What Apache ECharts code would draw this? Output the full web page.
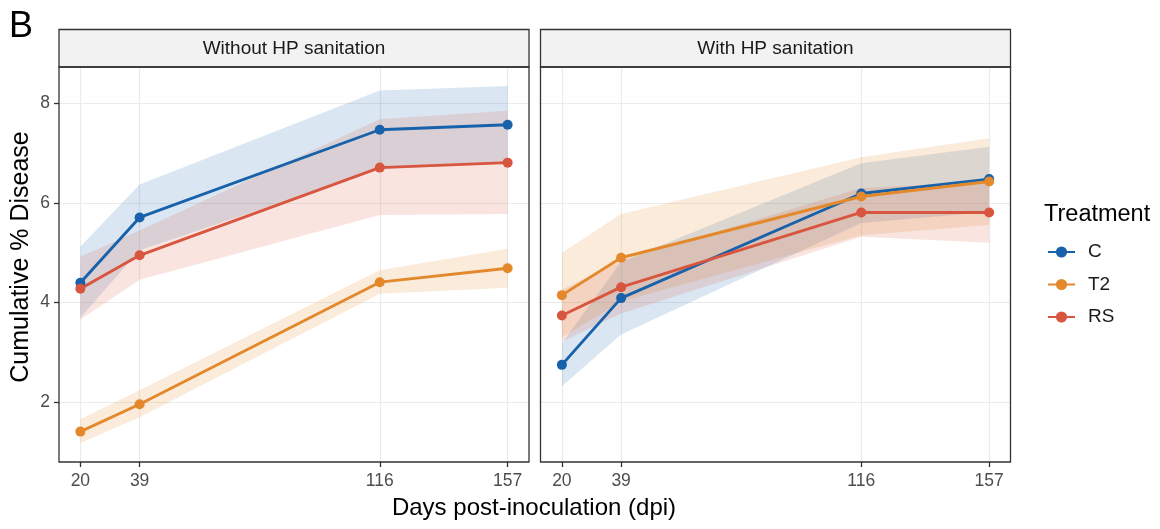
<!DOCTYPE html>
<html>
<head>
<meta charset="utf-8">
<script src="https://cdn.jsdelivr.net/npm/echarts@6/dist/echarts.min.js"></script>
<style>
html,body{margin:0;padding:0;background:#fff;}
#chart{width:1160px;height:529px;}
</style>
</head>
<body>
<div id="chart"></div>
<script>
// ---- Data ----
const days = [20, 39, 116, 157];
const xTicks = [20, 39, 116, 157];
const yTicks = [2, 4, 6, 8];
const treatments = ['C', 'T2', 'RS'];
const panels = ['Without HP sanitation', 'With HP sanitation'];

// Without HP sanitation
const woC    = [4.40, 5.71, 7.47, 7.57];
const woCLo  = [3.70, 5.05, 6.68, 6.80];
const woCHi  = [5.12, 6.37, 8.26, 8.35];
const woT2   = [1.41, 1.96, 4.41, 4.69];
const woT2Lo = [1.18, 1.70, 4.18, 4.30];
const woT2Hi = [1.66, 2.24, 4.65, 5.08];
const woRS   = [4.28, 4.95, 6.71, 6.81];
const woRSLo = [3.66, 4.46, 5.76, 5.78];
const woRSHi = [4.92, 5.45, 7.68, 7.85];

// With HP sanitation
const wC    = [2.75, 4.09, 6.19, 6.48];
const wCLo  = [2.32, 3.36, 5.60, 5.82];
const wCHi  = [3.18, 4.82, 6.80, 7.13];
const wT2   = [4.15, 4.90, 6.13, 6.43];
const wT2Lo = [3.30, 4.02, 5.35, 5.56];
const wT2Hi = [5.00, 5.78, 6.92, 7.30];
const wRS   = [3.74, 4.31, 5.81, 5.81];
const wRSLo = [3.22, 3.78, 5.32, 5.20];
const wRSHi = [4.26, 4.84, 6.30, 6.42];

// ---- Styles ----
const colors = { C: '#1862AB', T2: '#E3892C', RS: '#D8553F' };
const bandColors = { C: 'rgba(24,98,171,0.16)', T2: 'rgba(227,137,44,0.17)', RS: 'rgba(216,85,63,0.16)' };
const FONT = '"Liberation Sans", Arial, sans-serif';

const panelData = [
  { C: [woC, woCLo, woCHi], T2: [woT2, woT2Lo, woT2Hi], RS: [woRS, woRSLo, woRSHi] },
  { C: [wC, wCLo, wCHi],   T2: [wT2, wT2Lo, wT2Hi],   RS: [wRS, wRSLo, wRSHi] }
];

const grids = [
  { left: 59, top: 67, width: 470, height: 395 },
  { left: 540.5, top: 67, width: 470, height: 395 }
];

const chart = echarts.init(document.getElementById('chart'), null, { renderer: 'canvas' });

const xAxes = grids.map((g, i) => ({
  type: 'value', gridIndex: i, min: 13.15, max: 163.85,
  axisLine: { show: false },
  axisTick: { show: true, customValues: xTicks, length: 5, lineStyle: { color: '#333', width: 1.3 } },
  axisLabel: { customValues: xTicks, color: '#4D4D4D', fontSize: 17.5, fontFamily: FONT, margin: 10 },
  splitLine: { show: true, lineStyle: { color: '#EBEBEB', width: 1.2 } }
}));
const yAxes = grids.map((g, i) => ({
  type: 'value', gridIndex: i, min: 0.8, max: 8.73,
  axisLine: { show: false },
  axisTick: { show: i === 0, customValues: yTicks, length: 5, lineStyle: { color: '#333', width: 1.3 } },
  axisLabel: { show: i === 0, customValues: yTicks, color: '#4D4D4D', fontSize: 17.5, fontFamily: FONT, margin: 9 },
  splitLine: { show: true, lineStyle: { color: '#EBEBEB', width: 1.2 } }
}));

const series = [];
panelData.forEach((pd, pi) => {
  treatments.forEach(t => {
    const [mid, lo, hi] = pd[t];
    series.push({
      type: 'custom', name: t + ' band ' + pi,
      xAxisIndex: pi, yAxisIndex: pi, z: 1, silent: true, clip: true,
      data: days.map((d, k) => [d, lo[k], hi[k]]),
      encode: { x: 0, y: [1, 2] },
      renderItem: (params, api) => {
        if (params.dataIndex !== 0) return null;
        const pts = [];
        for (let k = 0; k < days.length; k++) pts.push(api.coord([days[k], hi[k]]));
        for (let k = days.length - 1; k >= 0; k--) pts.push(api.coord([days[k], lo[k]]));
        return { type: 'polygon', shape: { points: pts }, style: { fill: bandColors[t] } };
      }
    });
  });
});
panelData.forEach((pd, pi) => {
  treatments.forEach(t => {
    const [mid] = pd[t];
    series.push({
      type: 'line', name: t, xAxisIndex: pi, yAxisIndex: pi, z: 3,
      data: days.map((d, k) => [d, mid[k]]),
      symbol: 'circle', symbolSize: 10, showSymbol: true,
      lineStyle: { color: colors[t], width: 2.9 },
      itemStyle: { color: colors[t] },
      emphasis: { disabled: true },
      animation: false
    });
  });
});

const graphics = [];
grids.forEach((g, i) => {
  graphics.push({
    type: 'rect', shape: { x: g.left, y: 29.5, width: g.width, height: 37.5 },
    style: { fill: '#F2F2F2', stroke: '#333', lineWidth: 1.3 }, z: 10
  });
  graphics.push({
    type: 'text', x: g.left + g.width / 2, y: 48.5, z: 11,
    style: { text: panels[i], fill: '#1A1A1A', font: '19px ' + FONT,
      textAlign: 'center', textVerticalAlign: 'middle', align: 'center', verticalAlign: 'middle' }
  });
  graphics.push({
    type: 'rect', shape: { x: g.left, y: g.top, width: g.width, height: g.height },
    style: { fill: 'none', stroke: '#333', lineWidth: 1.3 }, z: 10, silent: true
  });
});
graphics.push({
  type: 'text', x: 21, y: 257, rotation: Math.PI / 2, z: 11,
  style: { text: 'Cumulative % Disease', fill: '#000', font: '25px ' + FONT,
    textAlign: 'center', textVerticalAlign: 'middle', align: 'center', verticalAlign: 'middle' }
});
graphics.push({
  type: 'text', x: 534, y: 508, z: 11,
  style: { text: 'Days post-inoculation (dpi)', fill: '#000', font: '24px ' + FONT,
    textAlign: 'center', textVerticalAlign: 'middle', align: 'center', verticalAlign: 'middle' }
});
graphics.push({
  type: 'text', x: 9, y: 27, z: 11,
  style: { text: 'B', fill: '#000', font: '36px ' + FONT,
    textAlign: 'left', textVerticalAlign: 'middle', align: 'left', verticalAlign: 'middle' }
});
graphics.push({
  type: 'text', x: 1044, y: 215, z: 11,
  style: { text: 'Treatment', fill: '#000', font: '23.5px ' + FONT,
    textAlign: 'left', textVerticalAlign: 'middle', align: 'left', verticalAlign: 'middle' }
});

chart.setOption({
  animation: false,
  backgroundColor: '#fff',
  grid: grids.map(g => Object.assign({ show: false, containLabel: false }, g)),
  xAxis: xAxes,
  yAxis: yAxes,
  legend: {
    data: treatments, orient: 'vertical', left: 1047, top: 242,
    itemWidth: 27, itemHeight: 14, itemGap: 12.5, padding: 0,
    textStyle: { fontSize: 19, lineHeight: 20, fontFamily: FONT, color: '#1A1A1A', padding: [0, 0, 0, 8] },
    selectedMode: false
  },
  graphic: graphics,
  series: series
});
</script>
</body>
</html>
